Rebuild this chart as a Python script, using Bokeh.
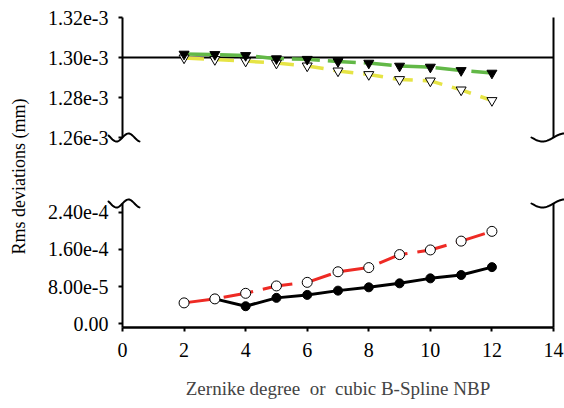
import numpy as np
from math import pi
from bokeh.plotting import figure
from bokeh.layouts import row, column
from bokeh.models import Range1d, FixedTicker, Label
from bokeh.embed import file_html
from bokeh.resources import INLINE

# ---------------- data ----------------
degree = [2, 3, 4, 5, 6, 7, 8, 9, 10, 11, 12]
green_filled = [1.3017e-3, 1.3015e-3, 1.3010e-3, 1.2994e-3, 1.2991e-3, 1.2980e-3,
                1.2972e-3, 1.2957e-3, 1.2952e-3, 1.2935e-3, 1.2922e-3]
yellow_open = [1.2998e-3, 1.2990e-3, 1.2982e-3, 1.2972e-3, 1.2958e-3, 1.2933e-3,
               1.2915e-3, 1.2890e-3, 1.2883e-3, 1.2838e-3, 1.2785e-3]
red_open = [4.50e-5, 5.36e-5, 6.56e-5, 8.15e-5, 8.92e-5, 1.12e-4,
            1.21e-4, 1.49e-4, 1.59e-4, 1.78e-4, 1.99e-4]
black_degree = [3, 4, 5, 6, 7, 8, 9, 10, 11, 12]
black_filled = [5.36e-5, 3.78e-5, 5.58e-5, 6.22e-5, 7.14e-5, 7.85e-5,
                8.71e-5, 9.78e-5, 1.05e-4, 1.22e-4]

x_ticks = [0, 2, 4, 6, 8, 10, 12, 14]
top_ticks = [1.26e-3, 1.28e-3, 1.30e-3, 1.32e-3]
top_tick_labels = ["1.26e-3", "1.28e-3", "1.30e-3", "1.32e-3"]
bot_ticks = [0.0, 8.0e-5, 1.6e-4, 2.4e-4]
bot_tick_labels = ["0.00", "8.00e-5", "1.60e-4", "2.40e-4"]
reference_level = 1.30e-3
bot_axis_top = 2.59e-4      # where the lower axis is broken
bot_axis_bottom = -8.0e-6   # x axis sits a little under zero

y_title = "Rms deviations (mm)"
x_title = "Zernike degree\u00a0 or\u00a0 cubic B-Spline NBP"

# ---------------- style / layout ----------------
FONT = "Liberation Serif"
TICK_SIZE = "20px"
TITLE_SIZE = "18px"
XTITLE_SIZE = "19px"
GREEN = "#62b847"
YELLOW = "#e6e445"
RED = "#ee2a24"

W0 = 30
FRAME_LEFT = 122
FRAME_RIGHT = 553
PX = (FRAME_RIGHT - FRAME_LEFT) / 14.0
x_range = Range1d(0, 14)

TOP_H = 160
top_y = Range1d(top_ticks[0], top_ticks[-1])
TOP_PXU = 120 / (top_y.end - top_y.start)
bot_y = Range1d(bot_axis_bottom, bot_axis_top)
BOT_PXU = 124 / (bot_y.end - bot_y.start)


def style_left_axis(ax, ticks, labels):
    ax.ticker = FixedTicker(ticks=ticks)
    ax.major_label_overrides = {t: l for t, l in zip(ticks, labels)}
    ax.axis_line_width = 2
    ax.major_tick_line_width = 2
    ax.major_tick_out = 4
    ax.major_tick_in = 0
    ax.minor_tick_line_color = None
    ax.major_label_standoff = 10
    ax.major_label_text_font = FONT
    ax.major_label_text_font_size = TICK_SIZE
    ax.major_label_text_color = "black"


def brace(p, x0, y0, dx_px, dy_px, pxu):
    xs = [x0 + d / PX for d in dx_px]
    ys = [y0 + d / pxu for d in dy_px]
    p.line(xs, ys, line_color="black", line_width=2, line_cap="round",
           line_join="round", level="overlay")


dx_l = np.linspace(-14, 17, 40)
dy_l = 4 * np.sin(pi * dx_l / 12)
dx_r = np.linspace(-22, 12, 40)
dy_r = 4 * np.sin(pi * dx_r / 22)

# ---------------- top panel ----------------
top = figure(width=564 - W0, height=TOP_H, x_range=x_range, y_range=top_y,
             x_axis_type=None, output_backend="svg", toolbar_location=None,
             min_border_left=FRAME_LEFT - W0, min_border_right=564 - FRAME_RIGHT,
             min_border_top=17, min_border_bottom=TOP_H - 137)
top.outline_line_color = None
top.ygrid.visible = False
style_left_axis(top.yaxis[0], top_ticks, top_tick_labels)

top.segment(x0=x_ticks[0], y0=reference_level, x1=x_ticks[-1], y1=reference_level,
            line_color="black", line_width=2)
top.segment(x0=x_ticks[-1], y0=top_ticks[0], x1=x_ticks[-1], y1=top_ticks[-1],
            line_color="black", line_width=2, level="overlay")

top.line(degree, green_filled, line_color=GREEN, line_width=3.5, line_dash="28 8")
top.line(degree, yellow_open, line_color=YELLOW, line_width=3.5, line_dash="20 10")
top.scatter(degree, yellow_open, marker="inverted_triangle", size=10,
            fill_color="white", line_color="black", line_width=1)
top.scatter(degree, green_filled, marker="inverted_triangle", size=10,
            fill_color="black", line_color="black")

brace(top, x_ticks[0], top_ticks[0], dx_l, dy_l, TOP_PXU)
brace(top, x_ticks[-1], top_ticks[0], dx_r, dy_r, TOP_PXU)

# ---------------- bottom panel ----------------
BOT_H = 408 - TOP_H
bot = figure(width=564 - W0, height=BOT_H, x_range=x_range, y_range=bot_y,
             output_backend="svg", toolbar_location=None,
             min_border_left=FRAME_LEFT - W0, min_border_right=564 - FRAME_RIGHT,
             min_border_top=203 - TOP_H, min_border_bottom=81)
bot.outline_line_color = None
bot.xgrid.visible = False
bot.ygrid.visible = False
style_left_axis(bot.yaxis[0], bot_ticks, bot_tick_labels)

xa = bot.xaxis[0]
xa.ticker = FixedTicker(ticks=x_ticks)
xa.axis_line_width = 2.5
xa.major_tick_line_width = 2
xa.major_tick_out = 4
xa.major_tick_in = 0
xa.minor_tick_line_color = None
xa.major_label_standoff = 11
xa.major_label_text_font = FONT
xa.major_label_text_font_size = TICK_SIZE
xa.major_label_text_color = "black"
xa.axis_label = x_title
xa.axis_label_text_font = FONT
xa.axis_label_text_font_size = XTITLE_SIZE
xa.axis_label_text_font_style = "normal"
xa.axis_label_standoff = 18

bot.segment(x0=x_ticks[-1], y0=bot_axis_bottom, x1=x_ticks[-1], y1=bot_axis_top,
            line_color="black", line_width=2, level="overlay")

bot.line(degree, red_open, line_color=RED, line_width=3, line_dash="30 10")
bot.line(black_degree, black_filled, line_color="black", line_width=3)
bot.scatter(black_degree, black_filled, marker="circle", size=9,
            fill_color="black", line_color="black")
bot.scatter(degree, red_open, marker="circle", size=10,
            fill_color="white", line_color="black", line_width=1)

brace(bot, x_ticks[0], bot_axis_top, dx_l, dy_l, BOT_PXU)
brace(bot, x_ticks[-1], bot_axis_top, dx_r, dy_r, BOT_PXU)

# ---------------- y title strip ----------------
ttl = figure(width=W0, height=408, x_range=Range1d(0, W0), y_range=Range1d(0, 408),
             x_axis_type=None, y_axis_type=None, output_backend="svg",
             toolbar_location=None, min_border=0)
ttl.outline_line_color = None
ttl.add_layout(Label(x=18, y=408 - 176, text=y_title, angle=pi / 2,
                     text_align="center", text_baseline="middle",
                     text_font=FONT, text_font_size=TITLE_SIZE, text_color="black"))

layout = row(ttl, column(top, bot, spacing=0), spacing=0)

open("out.html", "w").write(file_html(layout, INLINE))
